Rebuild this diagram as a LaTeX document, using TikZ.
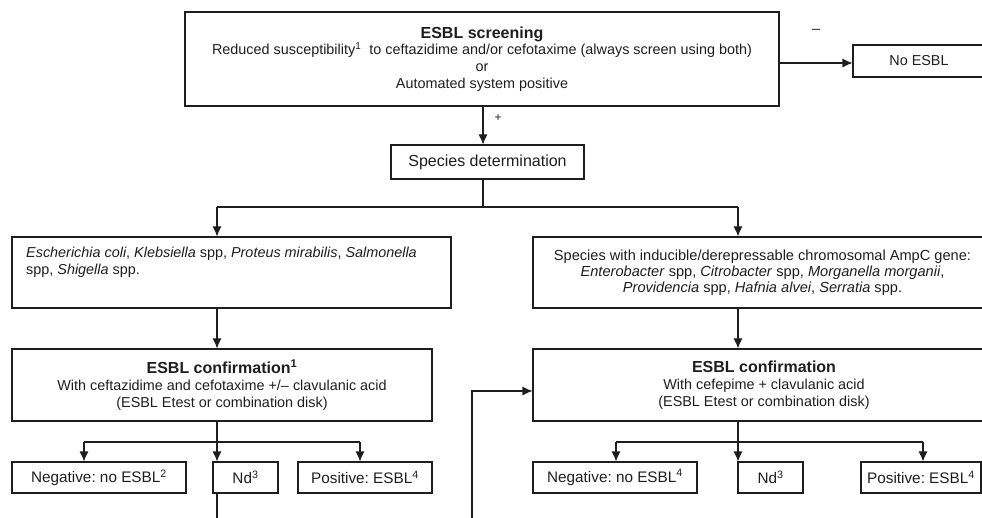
\documentclass[tikz,border=0pt]{standalone}
\usepackage{fontspec}
\setmainfont{Liberation Sans}
\usetikzlibrary{arrows.meta}
\definecolor{ink}{HTML}{1E1E1E}
\frenchspacing
\tikzset{
  box/.style={draw=ink, line width=1.1pt, inner sep=0pt, align=center, text=ink},
  fs/.style={font=\frenchspacing\fontsize{14.4}{16.7}\selectfont},
  fr/.style={font=\frenchspacing\fontsize{14.6}{16.2}\selectfont},
  fb/.style={font=\frenchspacing\fontsize{15.3}{17}\selectfont},
  fm/.style={font=\frenchspacing\fontsize{16}{17.5}\selectfont},
  conn/.style={draw=ink, line width=1.1pt},
  arr/.style={conn, -{Latex[length=10pt,width=9pt]}},
}
\newcommand{\hd}[1]{{\fontsize{16}{17}\selectfont\bfseries #1}}
\begin{document}
\begin{tikzpicture}[x=1pt,y=-1pt]
\useasboundingbox (0,0) rectangle (982,518);
\clip (0,0) rectangle (982,518);
% boxes
\node[box,fs,minimum width=594,minimum height=94] (top) at (482,59)
  {\hd{ESBL screening}\\Reduced susceptibility\textsuperscript{1}\ \ to ceftazidime and/or cefotaxime (always screen using both)\\or\\Automated system positive};
\node[box,fs,minimum width=132,minimum height=32] (noesbl) at (919,61) {No ESBL};
\node[box,fm,minimum width=193,minimum height=34] (spec) at (487.5,162) {Species determination};
\node[box,minimum width=439,minimum height=71] (ls) at (231.5,272.5) {};
\node[fs,anchor=north west,align=left,inner sep=0pt,text=ink] (lstext) at (26,247)
  {\textit{Escherichia coli}, \textit{Klebsiella} spp, \textit{Proteus mirabilis}, \textit{Salmonella}\\spp, \textit{Shigella} spp.};
\node[box,fr,minimum width=459,minimum height=71] (rs) at (762.5,272.5)
  {Species with inducible/derepressable chromosomal AmpC gene:\\\textit{Enterobacter} spp, \textit{Citrobacter} spp, \textit{Morganella morganii},\\\textit{Providencia} spp, \textit{Hafnia alvei}, \textit{Serratia} spp.};
\node[box,fs,minimum width=420,minimum height=72] (lc) at (222,385)
  {\hd{ESBL confirmation\textsuperscript{1}}\\With ceftazidime and cefotaxime +/– clavulanic acid\\(ESBL Etest or combination disk)};
\node[box,fs,minimum width=462,minimum height=72] (rc) at (764,385)
  {\hd{ESBL confirmation}\\With cefepime + clavulanic acid\\(ESBL Etest or combination disk)};
\node[box,fb,minimum width=174,minimum height=31] (nl) at (99,477.5) {Negative: no ESBL\textsuperscript{2}};
\node[box,fb,minimum width=65,minimum height=31] (dl) at (245.5,477.5) {Nd\textsuperscript{3}};
\node[box,fb,minimum width=134,minimum height=31] (pl) at (365,477.5) {Positive: ESBL\textsuperscript{4}};
\node[box,fb,minimum width=164,minimum height=31] (nr) at (615,477.5) {Negative: no ESBL\textsuperscript{4}};
\node[box,fb,minimum width=65,minimum height=31] (dr) at (770.5,477.5) {Nd\textsuperscript{3}};
\node[box,fb,minimum width=120,minimum height=31] (pr) at (921,477.5) {Positive: ESBL\textsuperscript{4}};
% labels
\node[fs,text=ink] (minus) at (816,31) {–};
\node[font=\fontsize{12}{14}\selectfont,text=ink] (plus) at (498,118) {+};
% coordinates
\coordinate (b1) at (483,207);
\coordinate (jL) at (217,207);
\coordinate (jR) at (738,207);
\coordinate (kL) at (217,442);
\coordinate (kL1) at (84,442);
\coordinate (kL3) at (360,442);
\coordinate (kR) at (738,442);
\coordinate (kR1) at (616,442);
\coordinate (kR3) at (923,442);
\coordinate (endL) at (217,520);
\coordinate (endR) at (472,520);
\coordinate (ret) at (472,391);
% connectors
\draw[arr] (top.east |- 0,63) -- (noesbl.west |- 0,63);
\draw[arr] (b1 |- top.south) -- (b1 |- spec.north);
\draw[conn] (b1 |- spec.south) -- (b1);
\draw[conn] (jL) -- (jR);
\draw[arr] (jL) -- (jL |- ls.north);
\draw[arr] (jR) -- (jR |- rs.north);
\draw[arr] (jL |- ls.south) -- (jL |- lc.north);
\draw[arr] (jR |- rs.south) -- (jR |- rc.north);
\draw[conn] (kL |- lc.south) -- (kL);
\draw[conn] (kL1) -- (kL3);
\draw[arr] (kL1) -- (kL1 |- nl.north);
\draw[arr] (kL) -- (kL |- dl.north);
\draw[arr] (kL3) -- (kL3 |- pl.north);
\draw[conn] (kR |- rc.south) -- (kR);
\draw[conn] (kR1) -- (kR3);
\draw[arr] (kR1) -- (kR1 |- nr.north);
\draw[arr] (kR) -- (kR |- dr.north);
\draw[arr] (kR3) -- (kR3 |- pr.north);
\draw[conn] (kL |- dl.south) -- (endL);
\draw[arr] (endR) -- (ret) -- (ret -| rc.west);
\end{tikzpicture}
\end{document}
